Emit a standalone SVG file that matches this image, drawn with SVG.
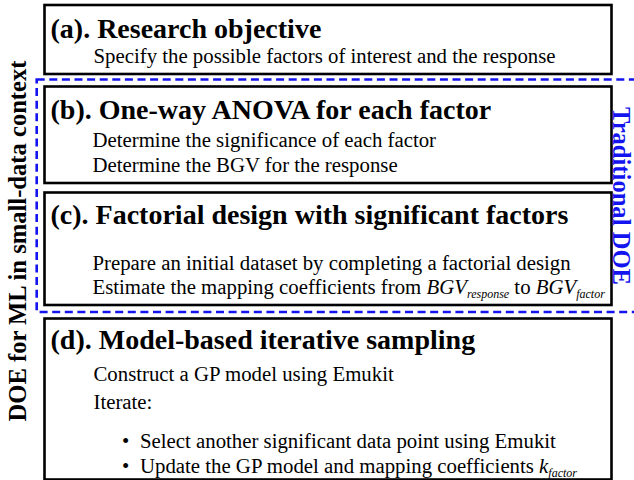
<svg xmlns="http://www.w3.org/2000/svg" width="634" height="480" viewBox="0 0 634 480">
<style>
.box{fill:#ffffff;stroke:#000000;stroke-width:2.6}
.title{font-family:"Liberation Serif","Times New Roman",serif;font-weight:bold;font-size:28px;fill:#000}
.body{font-family:"Liberation Serif","Times New Roman",serif;font-size:20.8px;fill:#000}
.it{font-style:italic}
.sub{font-style:italic;font-size:12px}
.side{font-family:"Liberation Serif","Times New Roman",serif;font-weight:bold;font-size:24.6px}
.dash{fill:none;stroke:#1414f0;stroke-width:2.6;stroke-dasharray:8 4.6}
</style>
<rect width="634" height="480" fill="#ffffff"/>
<g id="region-traditional-doe">
<rect class="dash" x="36.7" y="79.5" width="620" height="232.5"/>
</g>
<g id="node-a">
<rect class="box" x="44.5" y="5" width="567" height="69"/>
<text class="title" x="50.5" y="38">(a). Research objective</text>
<text class="body" x="93.5" y="63">Specify the possible factors of interest and the response</text>
</g>
<g id="node-b">
<rect class="box" x="44.5" y="86.5" width="567" height="96.5"/>
<text class="title" x="50.5" y="119">(b). One-way ANOVA for each factor</text>
<text class="body" x="92.5" y="147">Determine the significance of each factor</text>
<text class="body" x="92.5" y="172">Determine the BGV for the response</text>
</g>
<g id="node-c">
<rect class="box" x="44.5" y="192.5" width="567" height="112.5"/>
<text class="title" x="50.5" y="224">(c). Factorial design with significant factors</text>
<text class="body" x="92.5" y="270">Prepare an initial dataset by completing a factorial design</text>
<text class="body" x="92.5" y="294">Estimate the mapping coefficients from <tspan class="it">BGV</tspan><tspan class="sub" dy="4">response</tspan><tspan dy="-4"> to </tspan><tspan class="it">BGV</tspan><tspan class="sub" dy="4">factor</tspan></text>
</g>
<g id="node-d">
<rect class="box" x="44.5" y="318.5" width="567" height="161"/>
<text class="title" x="50.5" y="349">(d). Model-based iterative sampling</text>
<text class="body" x="93.5" y="381">Construct a GP model using Emukit</text>
<text class="body" x="93.5" y="409">Iterate:</text>
<text class="body" x="122" y="448" font-size="14">•</text>
<text class="body" x="140" y="448">Select another significant data point using Emukit</text>
<text class="body" x="122" y="473" font-size="14">•</text>
<text class="body" x="140" y="473">Update the GP model and mapping coefficients <tspan class="it">k</tspan><tspan class="sub" dy="4">factor</tspan></text>
</g>
<g id="connectors"></g>
<g id="labels">
<text class="side" fill="#000000" transform="translate(26,241) rotate(-90)" text-anchor="middle">DOE for ML in small-data context</text>
<text class="side" fill="#1414f0" font-size="20.5" transform="translate(613,196) rotate(90)" text-anchor="middle">Traditional DOE</text>
</g>
</svg>
